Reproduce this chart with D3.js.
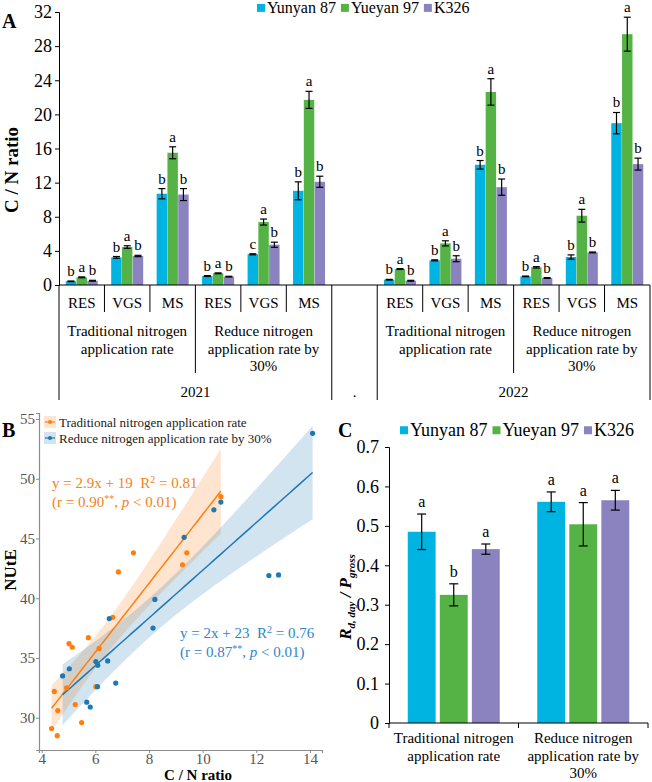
<!DOCTYPE html>
<html>
<head>
<meta charset="utf-8">
<script src="https://cdn.jsdelivr.net/npm/d3@7"></script>
<style>
  body { margin: 0; background: #fff; }
  svg, svg text { font-family: "Liberation Serif", "Times New Roman", serif; }
</style>
</head>
<body>
<svg id="fig" width="652" height="782"></svg>
<script>
// ---------- panel A : C/N ratio per stage ----------
const years = ["2021", "2022"];
const treatmentLines = [["Traditional nitrogen", "application rate"],
                        ["Reduce nitrogen", "application rate by", "30%"]];
const stages = ["RES", "VGS", "MS"];
const varieties = ["Yunyan 87", "Yueyan 97", "K326"];
const colors = ["#00b4e1", "#55b346", "#8b83c0"];

// order: 2021 trad RES,VGS,MS, 2021 reduce RES,VGS,MS, 2022 trad ..., 2022 reduce ...
const yunyanCN    = [0.43, 3.24, 10.7, 1.05, 3.6, 11.04, 0.62, 2.89, 14.09, 1.01, 3.28, 18.97];
const yueyanCN    = [0.9, 4.45, 15.5, 1.37, 7.38, 21.7, 1.87, 4.88, 22.63, 2.07, 8.12, 29.4];
const k326CN      = [0.5, 3.4, 10.6, 0.98, 4.72, 12.1, 0.5, 3.08, 11.47, 0.82, 3.82, 14.17];
const yunyanCNErr = [0.04, 0.1, 0.6, 0.05, 0.06, 1.05, 0.04, 0.06, 0.5, 0.04, 0.25, 1.25];
const yueyanCNErr = [0.05, 0.15, 0.7, 0.05, 0.35, 1.0, 0.05, 0.3, 1.55, 0.08, 0.75, 1.99];
const k326CNErr   = [0.05, 0.08, 0.7, 0.04, 0.3, 0.65, 0.05, 0.35, 0.95, 0.05, 0.05, 0.7];
const yunyanCNLetters = ["b", "b", "b", "b", "c", "b", "b", "b", "b", "b", "b", "b"];
const yueyanCNLetters = ["a", "a", "a", "a", "a", "a", "a", "a", "a", "a", "a", "a"];
const k326CNLetters   = ["b", "b", "b", "b", "b", "b", "b", "b", "b", "b", "b", "b"];
const cnTicks = [0, 4, 8, 12, 16, 20, 24, 28, 32];

// ---------- panel B : NUtE vs C/N ----------
const tradCN     = [4.37, 4.58, 4.47, 4.60, 4.93, 5.02, 5.14, 5.25, 5.49, 5.74, 6.02, 6.14, 6.65, 6.86, 7.42, 9.25, 9.41, 10.68];
const tradNUtE   = [29.1, 28.5, 32.2, 30.6, 32.5, 36.2, 35.9, 31.1, 29.6, 36.7, 32.6, 35.8, 38.4, 42.2, 43.8, 42.8, 43.8, 48.5];
const reduceCN   = [4.78, 5.03, 5.68, 5.81, 6.02, 6.09, 6.08, 6.46, 6.52, 6.76, 8.15, 8.22, 9.31, 10.42, 10.68, 12.47, 12.83, 14.1];
const reduceNUtE = [33.5, 34.1, 31.3, 30.9, 34.7, 34.4, 32.6, 34.75, 38.3, 32.9, 37.5, 39.9, 45.1, 47.4, 48.05, 41.9, 41.95, 53.8];
const seriesB = ["Traditional nitrogen application rate", "Reduce nitrogen application rate by 30%"];
const colorsB = ["#ff7f0e", "#1f77b4"];
const xTicksB = [4, 6, 8, 10, 12, 14];
const yTicksB = [30, 35, 40, 45, 50, 55];

// ---------- panel C : Rd,day / Pgross ----------
const treatmentsC = ["trad", "reduce"];
const yunyanRatio    = [0.485, 0.561];
const yueyanRatio    = [0.325, 0.504];
const k326Ratio      = [0.441, 0.565];
const yunyanRatioErr = [0.045, 0.025];
const yueyanRatioErr = [0.028, 0.055];
const k326RatioErr   = [0.013, 0.025];
const yunyanRatioLetters = ["a", "a"];
const yueyanRatioLetters = ["b", "a"];
const k326RatioLetters   = ["a", "a"];
const ratioTicks = [0, 0.1, 0.2, 0.3, 0.4, 0.5, 0.6, 0.7];

const FONT = "Liberation Serif, Times New Roman, serif";
const svg = d3.select("#fig");

function multiLine(g, lines, x, y0, lh, size) {
  const t = g.append("text").attr("text-anchor", "middle").attr("font-size", size);
  lines.forEach((l, i) => t.append("tspan").attr("x", x).attr("y", y0 + i * lh).text(l));
  return t;
}

function legendRow(g, names, cols, x, y, size, sq) {
  let cx = x;
  names.forEach((n, i) => {
    g.append("rect").attr("x", cx).attr("y", y - sq / 2 - size * 0.32).attr("width", sq).attr("height", sq).attr("fill", cols[i]);
    const t = g.append("text").attr("x", cx + sq + 2).attr("y", y).attr("font-size", size).text(n);
    cx += sq + 2 + t.node().getComputedTextLength() + 5;
  });
}

// ================= PANEL A =================
(function () {
  const g = svg.append("g");
  const y0 = 285, yTop = 12, left = 59, right = 650;
  const slots = [];
  years.forEach((yr, yi) => {
    if (yi > 0) slots.push("gap");
    treatmentLines.forEach((t, ti) => stages.forEach(s => slots.push(`${yr}|${ti}|${s}`)));
  });
  const x = d3.scaleBand().domain(slots).range([left, right]);
  const y = d3.scaleLinear().domain([0, 32]).range([y0, yTop]);
  const means = [yunyanCN, yueyanCN, k326CN];
  const errs = [yunyanCNErr, yueyanCNErr, k326CNErr];
  const letters = [yunyanCNLetters, yueyanCNLetters, k326CNLetters];
  const dataSlots = slots.filter(s => s !== "gap");

  const rows = [];
  dataSlots.forEach((s, k) => varieties.forEach((v, vi) => rows.push({
    slot: s, vi, v: means[vi][k], e: errs[vi][k], l: letters[vi][k]
  })));

  const inner = d3.scaleBand().domain(d3.range(3)).range([-16, 16]).paddingInner(0.03);

  g.append("g").attr("transform", `translate(${left},0)`)
    .call(d3.axisLeft(y).tickValues(cnTicks).tickSize(4).tickPadding(3))
    .call(a => a.select(".domain").attr("stroke", "#000"))
    .call(a => a.selectAll("text").attr("font-size", 18).attr("font-family", FONT).attr("fill", "#000"));

  const cx = s => x(s) + x.bandwidth() / 2;

  g.selectAll(".barA").data(rows).join("rect")
    .attr("x", d => cx(d.slot) + inner(d.vi))
    .attr("width", inner.bandwidth())
    .attr("y", d => y(d.v))
    .attr("height", d => y0 - y(d.v))
    .attr("fill", d => colors[d.vi]);

  const eb = g.selectAll(".errA").data(rows).join("g")
    .attr("transform", d => `translate(${cx(d.slot) + inner(d.vi) + inner.bandwidth() / 2},0)`);
  eb.append("line").attr("y1", d => y(d.v - d.e)).attr("y2", d => y(d.v + d.e)).attr("stroke", "#000").attr("stroke-width", 1.2);
  eb.append("line").attr("x1", -3.5).attr("x2", 3.5).attr("y1", d => y(d.v + d.e)).attr("y2", d => y(d.v + d.e)).attr("stroke", "#000").attr("stroke-width", 1.2);
  eb.append("line").attr("x1", -3.5).attr("x2", 3.5).attr("y1", d => y(d.v - d.e)).attr("y2", d => y(d.v - d.e)).attr("stroke", "#000").attr("stroke-width", 1.2);
  eb.append("text").attr("text-anchor", "middle").attr("font-size", 15)
    .attr("y", d => y(d.v + d.e) - 5).text(d => d.l);

  // multi level category axis
  const ax = g.append("g").attr("stroke", "#000").attr("stroke-width", 1);
  ax.append("line").attr("x1", left).attr("x2", right).attr("y1", y0).attr("y2", y0);
  slots.forEach((s, i) => {
    const xl = x(s);
    let bottom = 312;
    if (s === "gap" || slots[i - 1] === "gap" || i === 0) bottom = 400;
    else if (s.endsWith("|1|RES")) bottom = 373;
    ax.append("line").attr("x1", xl).attr("x2", xl).attr("y1", y0).attr("y2", bottom);
  });
  ax.append("line").attr("x1", right).attr("x2", right).attr("y1", y0).attr("y2", 400);

  dataSlots.forEach(s => {
    g.append("text").attr("x", cx(s)).attr("y", 308).attr("text-anchor", "middle")
      .attr("font-size", 15).text(s.split("|")[2]);
  });
  years.forEach(yr => {
    treatmentLines.forEach((lines, ti) => {
      const ss = dataSlots.filter(s => s.startsWith(`${yr}|${ti}|`));
      const mid = (x(ss[0]) + x(ss[2]) + x.bandwidth()) / 2;
      multiLine(g, lines, mid, 336, 17.5, 15);
    });
    const ys = dataSlots.filter(s => s.startsWith(yr + "|"));
    g.append("text").attr("x", (x(ys[0]) + x(ys[5]) + x.bandwidth()) / 2).attr("y", 397)
      .attr("text-anchor", "middle").attr("font-size", 15).text(yr);
  });
  g.append("text").attr("x", cx("gap")).attr("y", 397).attr("text-anchor", "middle").attr("font-size", 15).text(".");

  g.append("text").attr("transform", `translate(18,170) rotate(-90)`).attr("text-anchor", "middle")
    .attr("font-size", 19).attr("font-weight", "bold").text("C / N ratio");
  g.append("text").attr("x", 2).attr("y", 28).attr("font-size", 20).attr("font-weight", "bold").text("A");

  legendRow(g, varieties, colors, 257, 13, 16, 8);
})();

// ================= PANEL B =================
(function () {
  const g = svg.append("g");
  const x = d3.scaleLinear().domain([3.9, 14.45]).range([39, 322]);
  const y = d3.scaleLinear().domain([27.3, 55.5]).range([750, 413]);
  const sets = [[tradCN, tradNUtE], [reduceCN, reduceNUtE]];

  // bands and fitted lines (ordinary least squares, 95% CI)
  const fits = sets.map(([xs, ys]) => {
    const n = xs.length, mx = d3.mean(xs), my = d3.mean(ys);
    const sxx = d3.sum(xs, v => (v - mx) ** 2);
    const sxy = d3.sum(xs, (v, i) => (v - mx) * (ys[i] - my));
    const b = sxy / sxx, a = my - b * mx;
    const s = Math.sqrt(d3.sum(xs, (v, i) => (ys[i] - a - b * v) ** 2) / (n - 2));
    const t = 2.12;
    const [lo, hi] = d3.extent(xs);
    return d3.range(0, 81).map(k => {
      const xv = lo + (hi - lo) * k / 80;
      const se = s * Math.sqrt(1 / n + (xv - mx) ** 2 / sxx);
      return { x: xv, f: a + b * xv, lo: a + b * xv - t * se, hi: a + b * xv + t * se };
    });
  });

  fits.forEach((pts, i) => {
    g.append("path").datum(pts)
      .attr("d", d3.area().x(d => x(d.x)).y0(d => y(d.lo)).y1(d => y(d.hi)))
      .attr("fill", colorsB[i]).attr("fill-opacity", 0.2);
  });
  fits.forEach((pts, i) => {
    g.append("path").datum(pts)
      .attr("d", d3.line().x(d => x(d.x)).y(d => y(d.f)))
      .attr("fill", "none").attr("stroke", colorsB[i]).attr("stroke-width", 1.5);
  });
  sets.forEach(([xs, ys], i) => {
    g.selectAll(null).data(xs).join("circle")
      .attr("cx", d => x(d)).attr("cy", (d, k) => y(ys[k])).attr("r", 2.6)
      .attr("fill", colorsB[i]);
  });

  const axX = g.append("g").attr("transform", "translate(0,750)")
    .call(d3.axisBottom(x).tickValues(xTicksB).tickSize(3).tickPadding(0));
  const axY = g.append("g").attr("transform", "translate(39,0)")
    .call(d3.axisLeft(y).tickValues(yTicksB).tickSize(3).tickPadding(1));
  [axX, axY].forEach(a => {
    a.select(".domain").attr("stroke", "#8c8c8c").attr("stroke-width", 1.2);
    a.selectAll("line").attr("stroke", "#8c8c8c");
    a.selectAll("text").attr("font-size", 15).attr("fill", "#555").attr("font-family", FONT);
  });

  g.append("text").attr("x", 198).attr("y", 780).attr("text-anchor", "middle")
    .attr("font-size", 15).attr("font-weight", "bold").text("C / N ratio");
  g.append("text").attr("transform", "translate(16,570) rotate(-90)").attr("text-anchor", "middle")
    .attr("font-size", 17).attr("font-weight", "bold").text("NUtE");
  g.append("text").attr("x", 2).attr("y", 437).attr("font-size", 20).attr("font-weight", "bold").text("B");

  // legend
  seriesB.forEach((name, i) => {
    const ly = 422 + i * 16;
    g.append("rect").attr("x", 44).attr("y", ly - 6).attr("width", 12).attr("height", 12)
      .attr("fill", colorsB[i]).attr("fill-opacity", 0.2);
    g.append("line").attr("x1", 45).attr("x2", 55).attr("y1", ly).attr("y2", ly)
      .attr("stroke", colorsB[i]).attr("stroke-width", 1.2);
    g.append("circle").attr("cx", 50).attr("cy", ly).attr("r", 2).attr("fill", colorsB[i]);
    g.append("text").attr("x", 59).attr("y", ly + 4.5).attr("font-size", 13).attr("fill", "#222").text(name);
  });

  // equations
  const eq = [
    { x: 52, y: 488, c: "#f58220", a: "y = 2.9x + 19  R", b: " = 0.81", r: "(r = 0.90", p: " < 0.01)" },
    { x: 180, y: 638, c: "#2f86c6", a: "y = 2x + 23  R", b: " = 0.76", r: "(r = 0.87", p: " < 0.01)" }
  ];
  eq.forEach(e => {
    const t1 = g.append("text").attr("x", e.x).attr("y", e.y).attr("font-size", 15).attr("fill", e.c)
      .style("white-space", "pre");
    t1.append("tspan").text(e.a);
    t1.append("tspan").attr("font-size", 10).attr("dy", -5).text("2");
    t1.append("tspan").attr("dy", 5).text(e.b);
    const t2 = g.append("text").attr("x", e.x).attr("y", e.y + 19).attr("font-size", 15).attr("fill", e.c)
      .style("white-space", "pre");
    t2.append("tspan").text(e.r);
    t2.append("tspan").attr("font-size", 10).attr("dy", -5).text("**");
    t2.append("tspan").attr("dy", 5).text(", ");
    t2.append("tspan").attr("font-style", "italic").text("p");
    t2.append("tspan").text(e.p);
  });
})();

// ================= PANEL C =================
(function () {
  const g = svg.append("g");
  const left = 389, right = 648, y0 = 723;
  const x = d3.scaleBand().domain(treatmentsC).range([left, right]);
  const y = d3.scaleLinear().domain([0, 0.7]).range([y0, 447]);
  const inner = d3.scaleBand().domain(d3.range(3)).range([-46, 46]).paddingInner(0.13);
  const means = [yunyanRatio, yueyanRatio, k326Ratio];
  const errs = [yunyanRatioErr, yueyanRatioErr, k326RatioErr];
  const letters = [yunyanRatioLetters, yueyanRatioLetters, k326RatioLetters];
  const rows = [];
  treatmentsC.forEach((t, k) => varieties.forEach((v, vi) => rows.push({
    t, vi, v: means[vi][k], e: errs[vi][k], l: letters[vi][k]
  })));
  const cx = t => x(t) + x.bandwidth() / 2;

  g.selectAll(".barC").data(rows).join("rect")
    .attr("x", d => cx(d.t) + inner(d.vi)).attr("width", inner.bandwidth())
    .attr("y", d => y(d.v)).attr("height", d => y0 - y(d.v)).attr("fill", d => colors[d.vi]);

  const eb = g.selectAll(".errC").data(rows).join("g")
    .attr("transform", d => `translate(${cx(d.t) + inner(d.vi) + inner.bandwidth() / 2},0)`);
  eb.append("line").attr("y1", d => y(d.v - d.e)).attr("y2", d => y(d.v + d.e)).attr("stroke", "#000").attr("stroke-width", 1.2);
  [1, -1].forEach(sg => eb.append("line").attr("x1", -4.5).attr("x2", 4.5)
    .attr("y1", d => y(d.v + sg * d.e)).attr("y2", d => y(d.v + sg * d.e)).attr("stroke", "#000").attr("stroke-width", 1.2));
  eb.append("text").attr("text-anchor", "middle").attr("font-size", 16)
    .attr("y", d => y(d.v + d.e) - 7).text(d => d.l);

  g.append("g").attr("transform", `translate(${left},0)`)
    .call(d3.axisLeft(y).tickValues(ratioTicks).tickFormat(d => d === 0 ? "0" : d3.format(".1f")(d)).tickSize(4).tickPadding(6))
    .call(a => a.select(".domain").attr("stroke", "#000"))
    .call(a => a.selectAll("text").attr("font-size", 18).attr("fill", "#000").attr("font-family", FONT));

  g.append("line").attr("x1", left).attr("x2", right).attr("y1", y0).attr("y2", y0).attr("stroke", "#000");
  [left, x("reduce"), right].forEach(v => g.append("line").attr("x1", v).attr("x2", v)
    .attr("y1", y0).attr("y2", y0 + 5).attr("stroke", "#000"));
  multiLine(g, treatmentLines[0], cx("trad"), 743, 17.5, 15);
  multiLine(g, treatmentLines[1], cx("reduce"), 743, 17.5, 15);

  const yt = g.append("text").attr("transform", "translate(351,597) rotate(-90)")
    .attr("text-anchor", "middle").attr("font-size", 17).attr("font-weight", "bold").attr("font-style", "italic");
  yt.append("tspan").text("R");
  yt.append("tspan").attr("font-size", 11).attr("dy", 4).text("d, day");
  yt.append("tspan").attr("dy", -4).text(" / P");
  yt.append("tspan").attr("font-size", 11).attr("dy", 4).text("gross");

  g.append("text").attr("x", 338).attr("y", 437).attr("font-size", 20).attr("font-weight", "bold").text("C");
  legendRow(g, varieties, colors, 400, 436, 18, 8);
})();
</script>
</body>
</html>
